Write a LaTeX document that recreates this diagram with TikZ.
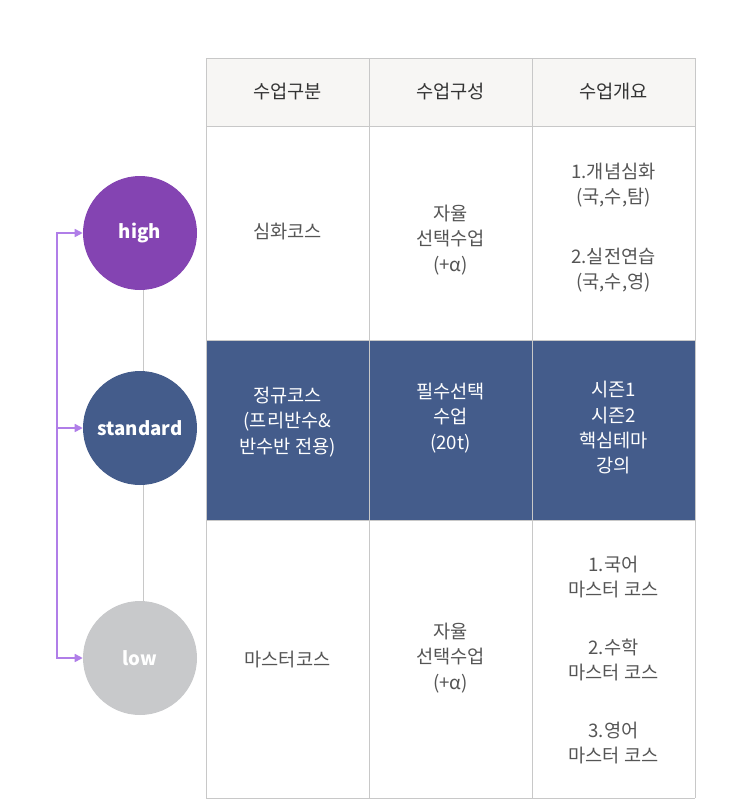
\documentclass[tikz,border=0pt]{standalone}
\usepackage{fontspec}
\setmainfont{Noto Sans CJK KR}
\usetikzlibrary{arrows.meta}
\definecolor{hicol}{HTML}{8444B2}
\definecolor{stcol}{HTML}{445C8B}
\definecolor{locol}{HTML}{C8C9CB}
\definecolor{headbg}{HTML}{F7F6F4}
\definecolor{gridcol}{HTML}{C8C8C8}
\definecolor{txtcol}{HTML}{555555}
\definecolor{arrcol}{HTML}{B07EE8}
\tikzset{
  level/.style={circle,minimum size=114*0.75pt,inner sep=0pt,text=white,font=\fontsize{14}{16}\selectfont\bfseries},
  cell/.style={align=center,text=txtcol,font=\fontsize{14}{19}\selectfont},
  headcell/.style={cell,text=black!80},
  darkcell/.style={cell,text=white}
}
\begin{document}
\begin{tikzpicture}[x=0.75pt,y=-0.75pt]
  \useasboundingbox (0,0) rectangle (750,800);
  % table backgrounds
  \fill[headbg] (206,58) rectangle (695,126);
  \fill[stcol] (206,340) rectangle (695,520);
  \foreach \x in {206,369,532,695}
    \draw[gridcol] (\x,58) -- (\x,798);
  \foreach \y in {58,126,340,520,798}
    \draw[gridcol] (206,\y) -- (695,\y);
  % header
  \node[headcell] (h1) at (287.5,92) {수업구분};
  \node[headcell] (h2) at (450.5,92) {수업구성};
  \node[headcell] (h3) at (613.5,92) {수업개요};
  % row high
  \node[cell] (a1) at (287.5,232) {심화코스};
  \node[cell] (a2) at (450.5,240) {자율\\선택수업\\(+α)};
  \node[cell] (a3) at (613.5,185) {1.개념심화\\(국,수,탐)};
  \node[cell] (a4) at (613.5,270) {2.실전연습\\(국,수,영)};
  % row standard
  \node[darkcell] (b1) at (287.5,422) {정규코스\\(프리반수\&\\반수반 전용)};
  \node[darkcell] (b2) at (450.5,418) {필수선택\\수업\\(20t)};
  \node[darkcell] (b3) at (613.5,428) {시즌1\\시즌2\\핵심테마\\강의};
  % row low
  \node[cell] (c1) at (287.5,660) {마스터코스};
  \node[cell] (c2) at (450.5,658) {자율\\선택수업\\(+α)};
  \node[cell] (c3) at (613.5,577) {1.국어\\마스터 코스};
  \node[cell] (c4) at (613.5,660) {2.수학\\마스터 코스};
  \node[cell] (c5) at (613.5,743) {3.영어\\마스터 코스};
  % levels
  \draw[gridcol] (143,232) -- (143,658);
  \node[level,fill=hicol] (high) at (140,233) {high};
  \node[level,fill=stcol] (standard) at (140,428) {standard};
  \node[level,fill=locol] (low) at (140,658) {low};
  \draw[arrcol,line width=1.2pt,{Triangle[length=6pt,width=6pt]}-{Triangle[length=6pt,width=6pt]}]
    (high.west) -- (57,233) -- (57,658) -- (low.west);
  \draw[arrcol,line width=1.2pt,-{Triangle[length=6pt,width=6pt]}] (57,428) -- (standard.west);
\end{tikzpicture}
\end{document}
